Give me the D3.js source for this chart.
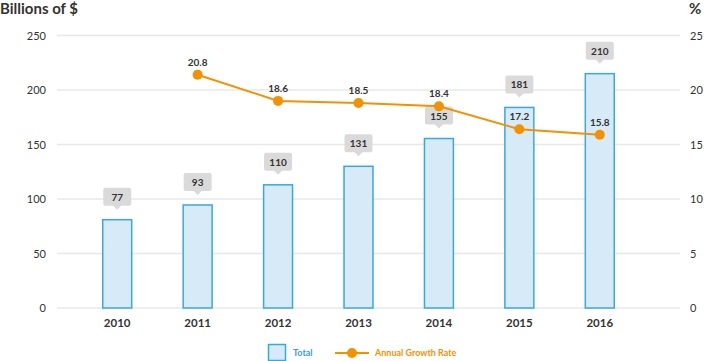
<!DOCTYPE html>
<html lang="en">
<head>
<meta charset="UTF-8">
<title>Billions of $ and Annual Growth Rate</title>
<style>
    body { margin: 0; background: #fff; font-family: Lato, "Open Sans", Arial, sans-serif; }
    #chart { width: 704px; height: 361px; }
    text { fill: #333; }
</style>
<script src="https://d3js.org/d3.v7.min.js"></script>
</head>
<body>
<div id="chart"></div>
<script>
    // Data
    const years = ["2010", "2011", "2012", "2013", "2014", "2015", "2016"];
    const totalLabels = [77, 93, 110, 131, 155, 181, 210];
    const totalBars = [81, 94.5, 113, 130, 155.5, 184, 215];      // bar heights as drawn
    const growthLabels = [null, 20.8, 18.6, 18.5, 18.4, 17.2, 15.8];
    const growthPoints = [null, 21.4, 19.0, 18.8, 18.5, 16.4, 15.9]; // point heights as drawn
    const leftTicks = [0, 50, 100, 150, 200, 250];
    const rightTicks = [0, 5, 10, 15, 20, 25];

    const W = 704, H = 361;
    const svg = d3.select("#chart").append("svg")
        .attr("width", W).attr("height", H);

    const x = d3.scaleBand().domain(years).range([77, 640]).paddingInner(0.64).paddingOuter(0.32);
    const yL = d3.scaleLinear().domain([0, 250]).range([308, 35.5]);
    const yR = d3.scaleLinear().domain([0, 25]).range([308, 35.5]);
    const cx = d => x(d) + x.bandwidth() / 2;

    // titles
    svg.append("text").attr("x", 0).attr("y", 14)
        .style("font-size", "15px").style("font-weight", "bold").text("Billions of $");
    svg.append("text").attr("x", 689).attr("y", 14)
        .style("font-size", "15px").style("font-weight", "bold").text("%");

    // grid lines
    svg.append("g").selectAll("line").data(leftTicks).enter().append("line")
        .attr("x1", 57).attr("x2", 680)
        .attr("y1", d => yL(d)).attr("y2", d => yL(d))
        .attr("stroke", "#e8e8e8").attr("stroke-width", 1.5);

    // left axis labels
    svg.append("g").selectAll("text").data(leftTicks).enter().append("text")
        .attr("x", 46).attr("y", d => yL(d) + 4)
        .attr("text-anchor", "end").style("font-size", "11px").text(d => d);

    // right axis labels
    svg.append("g").selectAll("text").data(rightTicks).enter().append("text")
        .attr("x", 690).attr("y", d => yR(d) + 4)
        .style("font-size", "11px").text(d => d);

    // x labels
    svg.append("g").selectAll("text").data(years).enter().append("text")
        .attr("x", d => cx(d)).attr("y", 327)
        .attr("text-anchor", "middle").style("font-size", "11.5px").style("font-weight", "bold")
        .text(d => d);

    // bars
    svg.append("g").selectAll("rect").data(years).enter().append("rect")
        .attr("x", d => x(d)).attr("width", x.bandwidth())
        .attr("y", (d, i) => yL(totalBars[i]))
        .attr("height", (d, i) => yL(0) - yL(totalBars[i]))
        .attr("fill", "#d6ebf7").attr("stroke", "#3aa8dc").attr("stroke-width", 1.5);

    // bar value bubbles
    const bub = svg.append("g").selectAll("g").data(years).enter().append("g")
        .attr("transform", (d, i) => `translate(${cx(d)},${yL(totalBars[i]) - 10})`);
    bub.append("path")
        .attr("d", "M-12,-18 h24 a2,2 0 0 1 2,2 v14 a2,2 0 0 1 -2,2 h-8 l-4,4 l-4,-4 h-8 a2,2 0 0 1 -2,-2 v-14 a2,2 0 0 1 2,-2 z")
        .attr("transform", "translate(0,-4)")
        .attr("fill", "#dadada");
    bub.append("text").attr("y", -9)
        .attr("text-anchor", "middle").style("font-size", "10px").style("font-weight", "bold")
        .text((d, i) => totalLabels[i]);

    // growth line
    const gData = years.map((d, i) => ({ year: d, v: growthPoints[i], label: growthLabels[i] }))
        .filter(d => d.v != null);
    svg.append("path").datum(gData)
        .attr("fill", "none").attr("stroke", "#f39200").attr("stroke-width", 2)
        .attr("d", d3.line().x(d => cx(d.year)).y(d => yR(d.v)));
    svg.append("g").selectAll("circle").data(gData).enter().append("circle")
        .attr("cx", d => cx(d.year)).attr("cy", d => yR(d.v)).attr("r", 5)
        .attr("fill", "#f39200");
    svg.append("g").selectAll("text").data(gData).enter().append("text")
        .attr("x", d => cx(d.year)).attr("y", d => yR(d.v) - 9)
        .attr("text-anchor", "middle").style("font-size", "10px").style("font-weight", "bold")
        .text(d => d.label.toFixed(1));

    // legend
    const lg = svg.append("g");
    lg.append("rect").attr("x", 268.5).attr("y", 344.5).attr("width", 17).attr("height", 16)
        .attr("fill", "#d6ebf7").attr("stroke", "#3aa8dc").attr("stroke-width", 1.5);
    lg.append("text").attr("x", 293).attr("y", 356)
        .style("font-size", "9px").style("font-weight", "bold").style("fill", "#3aa0d8").text("Total");
    lg.append("line").attr("x1", 335).attr("x2", 369).attr("y1", 353).attr("y2", 353)
        .attr("stroke", "#f39200").attr("stroke-width", 2);
    lg.append("circle").attr("cx", 352).attr("cy", 353).attr("r", 5).attr("fill", "#f39200");
    lg.append("text").attr("x", 375).attr("y", 356)
        .style("font-size", "9px").style("font-weight", "bold").style("fill", "#f39200").text("Annual Growth Rate");
</script>
</body>
</html>
